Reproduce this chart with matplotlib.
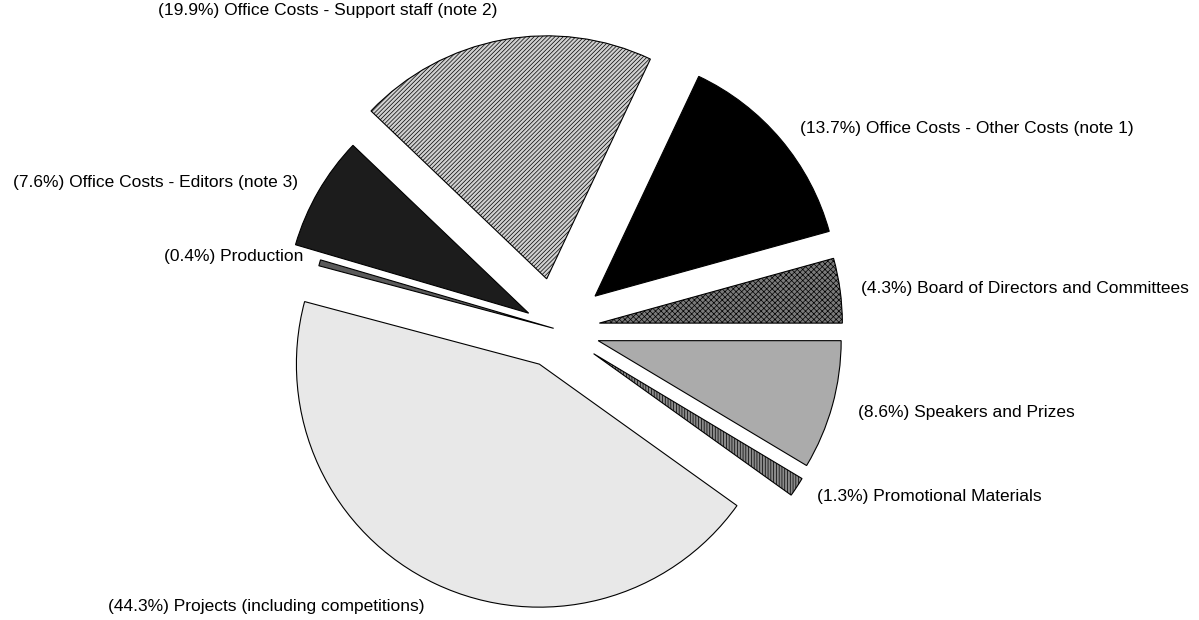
import matplotlib.pyplot as plt

# Budget breakdown, counterclockwise from 3 o'clock
categories = [
    "Board of Directors and Committees",
    "Office Costs - Other Costs (note 1)",
    "Office Costs - Support staff (note 2)",
    "Office Costs - Editors (note 3)",
    "Production",
    "Projects (including competitions)",
    "Promotional Materials",
    "Speakers and Prizes",
]
shares = [4.3, 13.7, 19.9, 7.6, 0.4, 44.3, 1.3, 8.6]

# slice styling
explode_frac = [0.18, 0.21, 0.21, 0.13, 0.01, 0.16, 0.185, 0.18]
face_colors = ["#7a7a7a", "#000000", "#d0d0d0", "#1c1c1c", "#5a5a5a",
               "#e8e8e8", "#8a8a8a", "#ababab"]
hatches = ["xxxxxx", None, "////////", None, None, None, "||||||", None]

# label anchors (pixel coords from top-left) and alignment
label_pos = [(861, 288), (800, 128), (158, 11), (298, 183), (303, 257),
             (108, 607), (817, 496), (858, 412)]
label_ha = ["left", "left", "left", "right", "right", "left", "left", "left"]

W, H = 1199, 620
center = (556, H - 329)
radius = 243

plt.rcParams["hatch.linewidth"] = 0.5

fig = plt.figure(figsize=(W / 100, H / 100), dpi=100)
ax = fig.add_axes([0, 0, 1, 1])

wedges, _ = ax.pie(
    shares,
    explode=[e * radius for e in explode_frac],
    center=center,
    radius=radius,
    startangle=0,
    counterclock=True,
    colors=face_colors,
    wedgeprops=dict(edgecolor="black", linewidth=0.8),
    frame=True,
)
for w, h in zip(wedges, hatches):
    if h:
        w.set_hatch(h)

for cat, val, (px, py), ha in zip(categories, shares, label_pos, label_ha):
    ax.text(px, H - py, f"({val}%) {cat}", ha=ha, va="center",
            fontsize=12.5, family="Liberation Sans", color="black")

ax.set_xlim(0, W)
ax.set_ylim(0, H)
ax.set_aspect("equal")
ax.axis("off")

fig.savefig("out.png", dpi=100, facecolor="white")
